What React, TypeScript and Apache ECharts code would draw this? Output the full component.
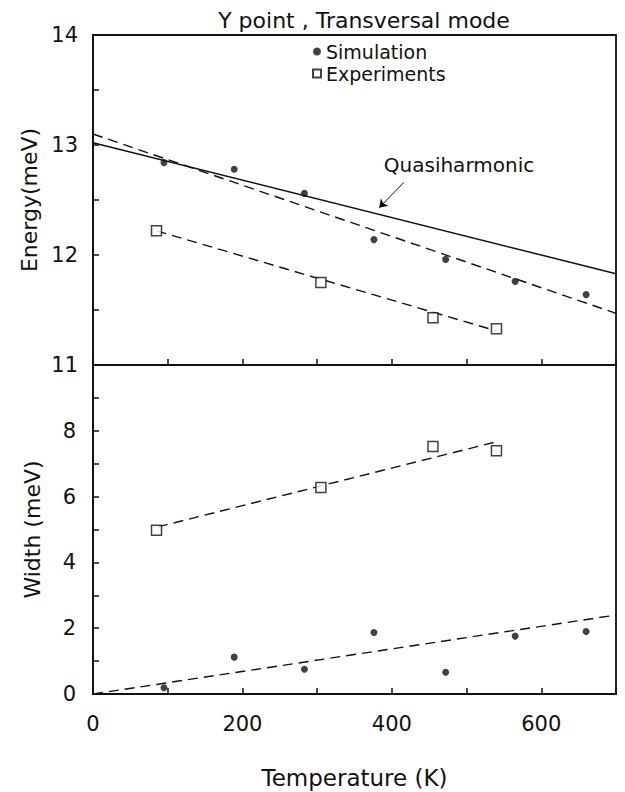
import React, { useEffect, useRef } from "react";
import * as echarts from "echarts";

const simTemps = [95, 189, 283, 376, 472, 565, 660];
const simEnergy = [12.84, 12.78, 12.56, 12.14, 11.96, 11.76, 11.64];
const simWidth = [0.19, 1.12, 0.75, 1.87, 0.66, 1.76, 1.9];

const expTemps = [85, 305, 455, 540];
const expEnergy = [12.22, 11.75, 11.43, 11.33];
const expWidth = [4.98, 6.28, 7.52, 7.39];

const quasiLine = [[0, 13.02], [700, 11.83]];
const simEnergyFit = [[0, 13.1], [700, 11.47]];
const expEnergyFit = [[85, 12.22], [540, 11.31]];
const simWidthFit = [[0, 0], [700, 2.4]];
const expWidthFit = [[87, 5.08], [537, 7.65]];
const quasiArrow = [[416, 12.66], [383, 12.43]];

const xTicks = [0, 200, 400, 600];

const FONT = "DejaVu Sans";
const INK = "#111";

export default function App() {
  const ref = useRef<HTMLDivElement>(null);
  useEffect(() => {
    if (!ref.current) return;
    const chart = echarts.init(ref.current, null, { renderer: "svg" });
    const zip = (xs: number[], ys: number[]) => xs.map((x, i) => [x, ys[i]]);
    const dash = { color: INK, width: 1.4, type: [10, 6] as any };
    const gridBase = { left: 93, width: 523, show: true, borderColor: INK, borderWidth: 1.8, backgroundColor: "transparent" };
    const xBase = {
      type: "value" as const,
      min: 0,
      max: 700,
      interval: 100,
      axisLine: { show: true, lineStyle: { color: INK, width: 1.8 } },
      axisTick: { show: true, inside: true, length: 6, lineStyle: { color: INK, width: 1.5 } },
      splitLine: { show: false },
    };
    const yBase = {
      type: "value" as const,
      axisLine: { show: true, lineStyle: { color: INK, width: 1.8 } },
      axisTick: { show: true, inside: true, length: 6, lineStyle: { color: INK, width: 1.5 } },
      splitLine: { show: false },
      nameLocation: "middle" as const,
      nameGap: 50,
      nameTextStyle: { fontFamily: FONT, fontSize: 22, color: INK },
    };
    const simStyle = { color: INK };
    const expStyle = { color: "#fff", borderColor: INK, borderWidth: 1.5 };
    chart.setOption({
      animation: false,
      backgroundColor: "#fff",
      title: {
        text: "Y point , Transversal mode",
        left: 359,
        top: 4,
        textAlign: "center",
        textStyle: { fontFamily: FONT, fontSize: 22, fontWeight: "normal", color: INK },
      },
      legend: {
        orient: "vertical",
        left: 312,
        top: 42,
        itemGap: 3,
        itemWidth: 8,
        itemHeight: 8,
        padding: 0,
        textStyle: { fontFamily: FONT, fontSize: 19, color: INK, lineHeight: 18 },
        data: [
          { name: "Simulation", icon: "circle" },
          { name: "Experiments", icon: "rect" },
        ],
      },
      grid: [
        { ...gridBase, top: 35, height: 330 },
        { ...gridBase, top: 365, height: 329 },
      ],
      xAxis: [
        { ...xBase, gridIndex: 0, axisLabel: { show: false } },
        {
          ...xBase,
          gridIndex: 1,
          name: "Temperature (K)",
          nameLocation: "middle",
          nameGap: 72,
          nameTextStyle: { fontFamily: FONT, fontSize: 23, color: INK },
          axisLabel: {
            margin: 19,
            fontFamily: FONT,
            fontSize: 21,
            color: INK,
            formatter: (v: number) => (xTicks.includes(v) ? String(v) : ""),
          },
        },
      ],
      yAxis: [
        {
          ...yBase,
          gridIndex: 0,
          min: 11,
          max: 14,
          interval: 0.5,
          name: "Energy(meV)",
          axisLabel: {
            margin: 15,
            fontFamily: FONT,
            fontSize: 21,
            color: INK,
            showMinLabel: true,
            showMaxLabel: true,
            formatter: (v: number) => (Number.isInteger(v) ? String(v) : ""),
          },
        },
        {
          ...yBase,
          gridIndex: 1,
          min: 0,
          max: 10,
          interval: 1,
          name: "Width (meV)",
          axisLabel: {
            margin: 17,
            fontFamily: FONT,
            fontSize: 21,
            color: INK,
            formatter: (v: number) => (v % 2 === 0 && v < 10 ? String(v) : ""),
          },
        },
      ],
      graphic: [
        {
          type: "text",
          x: 459,
          y: 165,
          style: { text: "Quasiharmonic", fontFamily: FONT, fontSize: 20, fill: INK, align: "center", verticalAlign: "middle" },
        },
      ],
      series: [
        {
          name: "Quasiharmonic",
          type: "line",
          xAxisIndex: 0,
          yAxisIndex: 0,
          data: quasiLine,
          symbol: "none",
          lineStyle: { color: INK, width: 1.5 },
          markLine: {
            silent: true,
            symbol: ["none", "arrow"],
            symbolSize: 8,
            label: { show: false },
            lineStyle: { color: INK, width: 1, type: "solid" },
            data: [[{ coord: quasiArrow[0] }, { coord: quasiArrow[1] }]],
          },
        },
        { type: "line", xAxisIndex: 0, yAxisIndex: 0, data: simEnergyFit, symbol: "none", lineStyle: dash },
        { type: "line", xAxisIndex: 0, yAxisIndex: 0, data: expEnergyFit, symbol: "none", lineStyle: dash },
        { type: "line", xAxisIndex: 1, yAxisIndex: 1, data: simWidthFit, symbol: "none", lineStyle: dash },
        { type: "line", xAxisIndex: 1, yAxisIndex: 1, data: expWidthFit, symbol: "none", lineStyle: dash },
        {
          name: "Simulation",
          type: "scatter",
          xAxisIndex: 0,
          yAxisIndex: 0,
          data: zip(simTemps, simEnergy),
          symbol: "circle",
          symbolSize: 7,
          itemStyle: simStyle,
          z: 5,
        },
        {
          name: "Experiments",
          type: "scatter",
          xAxisIndex: 0,
          yAxisIndex: 0,
          data: zip(expTemps, expEnergy),
          symbol: "rect",
          symbolSize: 10,
          itemStyle: expStyle,
          z: 5,
        },
        {
          name: "Simulation",
          type: "scatter",
          xAxisIndex: 1,
          yAxisIndex: 1,
          data: zip(simTemps, simWidth),
          symbol: "circle",
          symbolSize: 7,
          itemStyle: simStyle,
          z: 5,
        },
        {
          name: "Experiments",
          type: "scatter",
          xAxisIndex: 1,
          yAxisIndex: 1,
          data: zip(expTemps, expWidth),
          symbol: "rect",
          symbolSize: 10,
          itemStyle: expStyle,
          z: 5,
        },
      ],
    });
    return () => chart.dispose();
  }, []);
  return <div ref={ref} style={{ width: 625, height: 792, position: "absolute", left: 0, top: 0 }} />;
}
